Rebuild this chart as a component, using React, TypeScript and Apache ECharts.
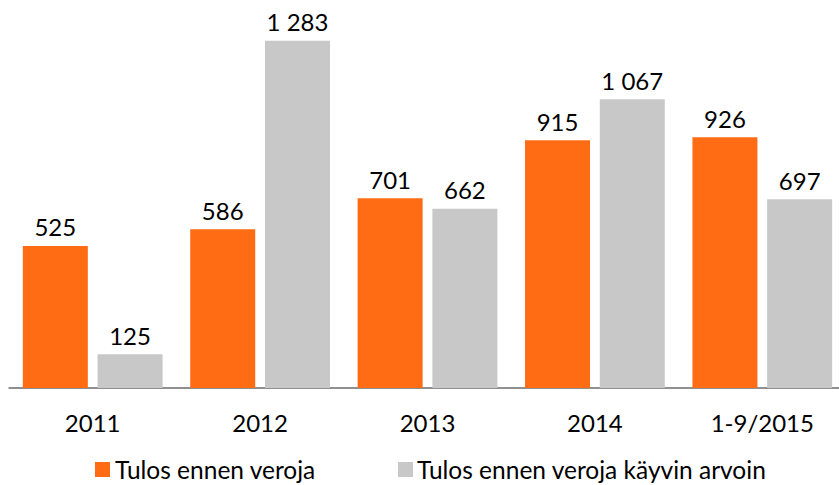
import React, { useEffect, useRef } from "react";
import * as echarts from "echarts";

const categories = ["2011", "2012", "2013", "2014", "1-9/2015"];
const seriesNames = ["Tulos ennen veroja", "Tulos ennen veroja käyvin arvoin"];
const tulosEnnenVeroja = [525, 586, 701, 915, 926];
const tulosKayvinArvoin = [125, 1283, 662, 1067, 697];

const FONT = "Lato";
const fmt = (v: number) => String(v).replace(/\B(?=(\d{3})+(?!\d))/g, " ");

export default function App() {
  const ref = useRef<HTMLDivElement>(null);
  useEffect(() => {
    if (!ref.current) return;
    const chart = echarts.init(ref.current, undefined, { renderer: "svg" });
    const label = {
      show: true,
      position: "top" as const,
      distance: 7,
      color: "#000",
      fontFamily: FONT,
      fontSize: 24,
      formatter: (p: any) => fmt(p.value),
    };
    const legendText = { fontFamily: FONT, fontSize: 24.5, color: "#000" };
    chart.setOption({
      animation: false,
      textStyle: { fontFamily: FONT },
      grid: {
        left: 9,
        top: 9,
        width: 837,
        bottom: 97,
        containLabel: false,
        outerBoundsMode: "none",
      },
      legend: [
        {
          data: [seriesNames[0]],
          left: 95,
          top: 457,
          padding: 0,
          itemWidth: 15,
          itemHeight: 15,
          itemGap: 5,
          icon: "rect",
          textStyle: { ...legendText, padding: [0, 0, 5, 0] },
        },
        {
          data: [seriesNames[1]],
          left: 398,
          top: 457,
          padding: 0,
          itemWidth: 15,
          itemHeight: 15,
          icon: "rect",
          textStyle: { ...legendText, padding: [0, 0, 5, -1] },
        },
      ],
      xAxis: {
        type: "category",
        data: categories,
        axisLine: { show: true, lineStyle: { color: "#6b6b6b", width: 1.5 } },
        axisTick: { show: false },
        axisLabel: { margin: 22, color: "#000", fontFamily: FONT, fontSize: 24 },
      },
      yAxis: {
        type: "value",
        min: 0,
        max: 1400,
        show: false,
        splitLine: { show: false },
      },
      series: [
        {
          name: seriesNames[0],
          type: "bar",
          data: tulosEnnenVeroja,
          barWidth: 65,
          barGap: "15%",
          itemStyle: { color: "#FF6C14" },
          label,
        },
        {
          name: seriesNames[1],
          type: "bar",
          data: tulosKayvinArvoin,
          barWidth: 65,
          barGap: "15%",
          itemStyle: { color: "#C8C8C8" },
          label,
        },
      ],
    });
    return () => chart.dispose();
  }, []);
  return <div ref={ref} style={{ width: 839, height: 485, position: "absolute", left: 0, top: 0 }} />;
}
